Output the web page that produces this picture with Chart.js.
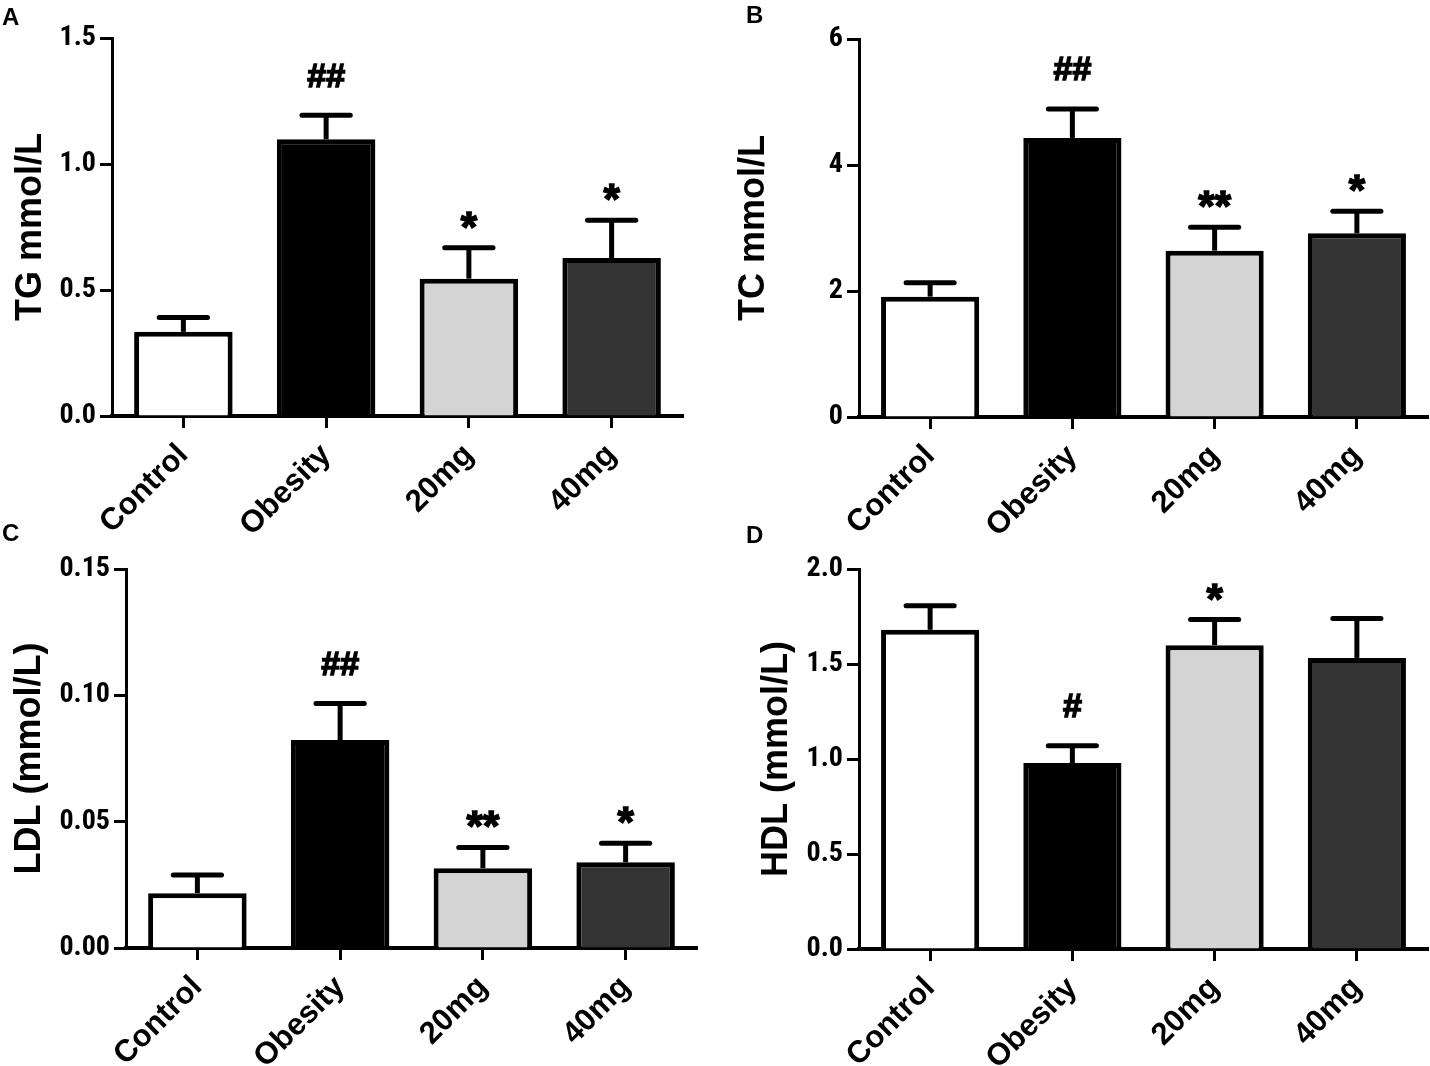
<!DOCTYPE html>
<html>
<head>
<meta charset="utf-8">
<script src="https://cdn.jsdelivr.net/npm/chart.js@4.4.1/dist/chart.umd.min.js"></script>
<style>
  body { margin: 0; background: #fff; }
  #fig { position: relative; width: 1430px; height: 1066px; background: #fff; overflow: hidden; }
  .panel { position: absolute; }
  .letter { position: absolute; font: bold 24px 'Liberation Sans', Arial, sans-serif; line-height: 24px; color: #000; }
</style>
</head>
<body>
<div id="fig">
  <canvas id="chartA" class="panel" width="715" height="560" style="left:0;top:0"></canvas>
  <canvas id="chartB" class="panel" width="715" height="560" style="left:715px;top:0"></canvas>
  <canvas id="chartC" class="panel" width="715" height="533" style="left:0;top:533px"></canvas>
  <canvas id="chartD" class="panel" width="715" height="533" style="left:715px;top:533px"></canvas>
  <div class="letter" style="left:2px;top:5px">A</div>
  <div class="letter" style="left:746px;top:3px">B</div>
  <div class="letter" style="left:2px;top:521px">C</div>
  <div class="letter" style="left:746px;top:523px">D</div>
</div>
<script>
// groups shown on every panel
const groups = ['Control', 'Obesity', '20mg', '40mg'];

// TG (panel A)
const tgMean = [0.334, 1.098, 0.545, 0.627];
const tgSem = [0.057, 0.095, 0.123, 0.150];
const tgMarks = ['', '##', '*', '*'];
const tgTicks = [0, 0.5, 1.0, 1.5];
const tgTickLabels = ['0.0', '0.5', '1.0', '1.5'];

// TC (panel B)
const tcMean = [1.91, 4.43, 2.64, 2.915];
const tcSem = [0.22, 0.46, 0.37, 0.35];
const tcMarks = ['', '##', '**', '*'];
const tcTicks = [0, 2, 4, 6];
const tcTickLabels = ['0', '2', '4', '6'];

// LDL (panel C)
const ldlMean = [0.0217, 0.0823, 0.0316, 0.0339];
const ldlSem = [0.0072, 0.0145, 0.0082, 0.0076];
const ldlMarks = ['', '##', '**', '*'];
const ldlTicks = [0, 0.05, 0.10, 0.15];
const ldlTickLabels = ['0.00', '0.05', '0.10', '0.15'];

// HDL (panel D)
const hdlMean = [1.680, 0.979, 1.599, 1.532];
const hdlSem = [0.127, 0.091, 0.135, 0.208];
const hdlMarks = ['', '#', '*', ''];
const hdlTicks = [0, 0.5, 1.0, 1.5, 2.0];
const hdlTickLabels = ['0.0', '0.5', '1.0', '1.5', '2.0'];

const barColors = ['#ffffff', '#000000', '#d4d4d4', '#333333'];
const sansFont = "'Liberation Sans', Arial, sans-serif";
const narrowFont = "'Roboto Condensed', 'Liberation Sans', sans-serif";

// draws the upper error bar and the significance marks above each bar
function errorBarPlugin(mean, sem, marks) {
    return {
        id: 'errorBars',
        afterDatasetsDraw(chart) {
            const ctx = chart.ctx;
            const yScale = chart.scales.y;
            const meta = chart.getDatasetMeta(0);
            meta.data.forEach((bar, i) => {
                const top = yScale.getPixelForValue(mean[i] + sem[i]);
                const capHalf = bar.width * 0.245;
                ctx.save();
                ctx.strokeStyle = '#000';
                ctx.lineWidth = 5;
                ctx.beginPath();
                ctx.moveTo(bar.x, bar.y);
                ctx.lineTo(bar.x, top);
                ctx.stroke();
                ctx.lineCap = 'round';
                ctx.beginPath();
                ctx.moveTo(bar.x - capHalf, top);
                ctx.lineTo(bar.x + capHalf, top);
                ctx.stroke();
                if (marks[i]) {
                    const isHash = marks[i].includes('#');
                    ctx.fillStyle = '#000';
                    ctx.font = isHash ? 'bold 34px ' + sansFont : 'bold 42px ' + sansFont;
                    ctx.textAlign = 'center';
                    ctx.textBaseline = 'alphabetic';
                    const m = ctx.measureText(marks[i]);
                    const centerY = top - (isHash ? 40 : 28);
                    const baseY = centerY + (m.actualBoundingBoxAscent - m.actualBoundingBoxDescent) / 2;
                    ctx.fillText(marks[i], bar.x, baseY);
                    // slightly heavier strokes, like the original figure
                    ctx.lineWidth = 1.5;
                    ctx.lineCap = 'butt';
                    ctx.strokeText(marks[i], bar.x, baseY);
                }
                ctx.restore();
            });
        }
    };
}

// build one panel; area is the wanted plot box inside the canvas
function makePanel(id, mean, sem, marks, ticks, tickLabels, title, area, titlePad) {
    const canvas = document.getElementById(id);
    const h = canvas.height;
    return new Chart(canvas.getContext('2d'), {
        type: 'bar',
        data: {
            labels: groups,
            datasets: [{
                data: mean,
                backgroundColor: barColors,
                borderColor: '#000',
                borderWidth: 5,
                borderSkipped: 'start',
                barPercentage: 0.69,
                categoryPercentage: 1.0
            }]
        },
        options: {
            responsive: false,
            animation: false,
            devicePixelRatio: 1,
            layout: { padding: { left: 0, top: area.top, right: 715 - area.right, bottom: 0 } },
            plugins: { legend: { display: false }, tooltip: { enabled: false } },
            scales: {
                x: {
                    z: 1,
                    afterFit: (s) => { s.height = h - area.bottom; },
                    border: { display: true, width: 4, color: '#000' },
                    grid: { offset: false, drawOnChartArea: false, drawTicks: true, tickLength: 12, tickWidth: 3, tickColor: '#000' },
                    ticks: {
                        color: '#000', autoSkip: false, minRotation: 45, maxRotation: 45, padding: 9,
                        font: { family: sansFont, size: 31, weight: 'bold' }
                    }
                },
                y: {
                    min: ticks[0],
                    max: ticks[ticks.length - 1],
                    afterBuildTicks: (s) => { s.ticks = ticks.map((v) => ({ value: v })); },
                    afterFit: (s) => { s.width = area.left; },
                    border: { display: true, width: 3, color: '#000' },
                    grid: { drawOnChartArea: false, drawTicks: true, tickLength: 12, tickWidth: 3, tickColor: '#000' },
                    ticks: {
                        color: '#000', padding: 4,
                        font: { family: narrowFont, size: 28, weight: 'bold' },
                        callback: (v, i) => tickLabels[i]
                    },
                    title: {
                        display: true, text: title, color: '#000',
                        font: { family: sansFont, size: 36, weight: 'bold', lineHeight: 1 },
                        padding: { top: titlePad, bottom: 0 }
                    }
                }
            }
        },
        plugins: [errorBarPlugin(mean, sem, marks)]
    });
}

makePanel('chartA', tgMean, tgSem, tgMarks, tgTicks, tgTickLabels, 'TG mmol/L',
    { left: 112, top: 38, right: 683, bottom: 416 }, 13);
makePanel('chartB', tcMean, tcSem, tcMarks, tcTicks, tcTickLabels, 'TC mmol/L',
    { left: 144, top: 39, right: 713, bottom: 417 }, 21);
makePanel('chartC', ldlMean, ldlSem, ldlMarks, ldlTicks, ldlTickLabels, 'LDL (mmol/L)',
    { left: 126, top: 36, right: 697, bottom: 415 }, 12);
makePanel('chartD', hdlMean, hdlSem, hdlMarks, hdlTicks, hdlTickLabels, 'HDL (mmol/L)',
    { left: 144, top: 36, right: 713, bottom: 416 }, 44);
</script>
</body>
</html>
